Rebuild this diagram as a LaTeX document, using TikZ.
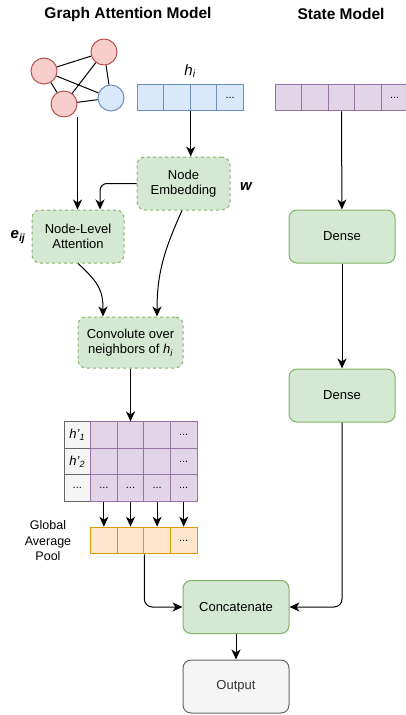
\documentclass[tikz,border=0pt]{standalone}
\usepackage{fontspec}
\setmainfont{Liberation Sans}
\usetikzlibrary{shapes,arrows.meta,positioning}
\definecolor{gfill}{HTML}{D5E8D4}
\definecolor{gline}{HTML}{82B366}
\definecolor{rfill}{HTML}{F8CECC}
\definecolor{rline}{HTML}{B85450}
\definecolor{bfill}{HTML}{DAE8FC}
\definecolor{bline}{HTML}{6C8EBF}
\definecolor{pfill}{HTML}{E1D5E7}
\definecolor{pline}{HTML}{9673A6}
\definecolor{ofill}{HTML}{FFE6CC}
\definecolor{oline}{HTML}{D79B00}
\definecolor{nfill}{HTML}{F5F5F5}
\definecolor{nline}{HTML}{666666}
\def\Dots{...}

\begin{document}
\begin{tikzpicture}[x=1pt,y=-1pt,% styles for the whole picture
			every node/.style={
				align=center,	% so that "\\" breaks lines
				font=\fontsize{13}{15.5}\selectfont
			},
			box/.style={rectangle,rounded corners=8pt,line width=1pt,draw=gline,fill=gfill,
				minimum width=106pt,minimum height=53pt},
			dbox/.style={box,dash pattern=on 3pt off 3pt},
			vert/.style={circle,line width=1pt,minimum size=26pt,inner sep=0pt},
			cell/.style={rectangle,line width=1pt,minimum size=26.6pt,inner sep=0pt,
				font=\fontsize{11}{13}\selectfont},
			lbl/.style={font=\fontsize{15}{17}\selectfont},
			arr/.style={line width=1pt,-{Stealth[length=10pt,width=9pt,inset=3pt]}},
			every edge/.style={draw,arr}
		]
		\useasboundingbox (0,0) rectangle (406,715);
		% titles
		\node[font=\fontsize{15.5}{18}\selectfont\bfseries](T1) at (128,14){Graph Attention Model};
		\node[font=\fontsize{15.5}{18}\selectfont\bfseries](T2) at (341,14){State Model};
		% graph
		\node[vert,draw=rline,fill=rfill](G1) at (104,52){};
		\node[vert,draw=rline,fill=rfill](G2) at (44,71){};
		\node[vert,draw=rline,fill=rfill](G3) at (64,104){};
		\node[vert,draw=bline,fill=bfill](G4) at (111,98){};
		\draw[line width=1pt] (G1)--(G2) (G1)--(G3) (G1)--(G4) (G2)--(G3) (G2)--(G4) (G3)--(G4);
		\coordinate (G0) at (77.5,117);
		% input arrays
		\node[lbl](L1) at (190,71){\textit{h\textsubscript{i}}};
		\foreach \t [count=\i] in {{},{},{},\Dots}
			\node[cell,draw=bline,fill=bfill](B\i) at (123.7+26.6*\i,97.5){\t};
		\foreach \t [count=\i] in {{},{},{},{},\Dots}
			\node[cell,draw=pline,fill=pfill](P\i) at (261.7+26.6*\i,97.5){\t};
		% boxes
		\node[dbox,minimum width=93pt](R1) at (183.5,183.5){Node\\Embedding};
		\node[dbox,minimum width=92pt](R2) at (78,236.5){Node-Level\\Attention};
		\node[dbox,minimum width=105pt,minimum height=51pt](R3) at (130.5,342.5){Convolute over\\neighbors of \textit{h\textsubscript{i}}};
		\node[box](R4) at (342,236.5){Dense};
		\node[box](R5) at (342,395.5){Dense};
		\node[box](R6) at (236,607){Concatenate};
		\node[box,draw=nline,fill=nfill,text=black!80](R7) at (236,686.5){Output};
		\node[lbl,font=\fontsize{15}{17}\selectfont\bfseries\itshape](L2) at (246,187){w};
		\node[lbl,font=\fontsize{15}{17}\selectfont\bfseries\itshape](L3) at (18,237){e\textsubscript{ij}};
		% output matrix
		\node[cell,draw=nline,fill=nfill,font=\fontsize{13}{15}\selectfont\itshape](M1) at (77.3,435.2){h'\textsubscript{1}};
		\node[cell,draw=nline,fill=nfill,font=\fontsize{13}{15}\selectfont\itshape](M2) at (77.3,461.6){h'\textsubscript{2}};
		\node[cell,draw=nline,fill=nfill](M3) at (77.3,488){\Dots};
		\foreach \t [count=\i] in {{},{},{},\Dots}{
			\node[cell,draw=pline,fill=pfill](X\i) at (77.3+26.6*\i,435.2){\t};
			\node[cell,draw=pline,fill=pfill](Y\i) at (77.3+26.6*\i,461.6){\t};
			\node[cell,draw=pline,fill=pfill](Z\i) at (77.3+26.6*\i,488){\Dots};
			\node[cell,draw=oline,fill=ofill](O\i) at (77.3+26.6*\i,540.5){\t};
			\path (Z\i) edge (O\i);
		}
		\node[font=\fontsize{12.5}{15.5}\selectfont](L4) at (48,541){Global\\Average\\Pool};
		% connectors
		\path
		(G0) edge (G0 |- R2.north)
		(B2.south east) edge (B2.south east |- R1.north)
		(P3) edge (R4)
		(R4) edge (R5)
		(R3) edge (R3 |- X1.north)
		(R6) edge (R7)
		;
		\draw[arr,rounded corners=7pt] (R1.west) -| ([xshift=22pt]R2.north);
		\draw[arr] (R2.south) .. controls +(22,20) and +(0,-25) .. ([xshift=-27.5pt]R3.north);
		\draw[arr] ([xshift=-1.5pt]R1.south) .. controls +(-17,38) and +(0,-45) .. ([xshift=26.5pt]R3.north);
		\draw[arr,rounded corners=8pt] (O2.south east) |- (R6.west);
		\draw[arr,rounded corners=8pt] (R5.south) |- (R6.east);
	\end{tikzpicture}
\end{document}
